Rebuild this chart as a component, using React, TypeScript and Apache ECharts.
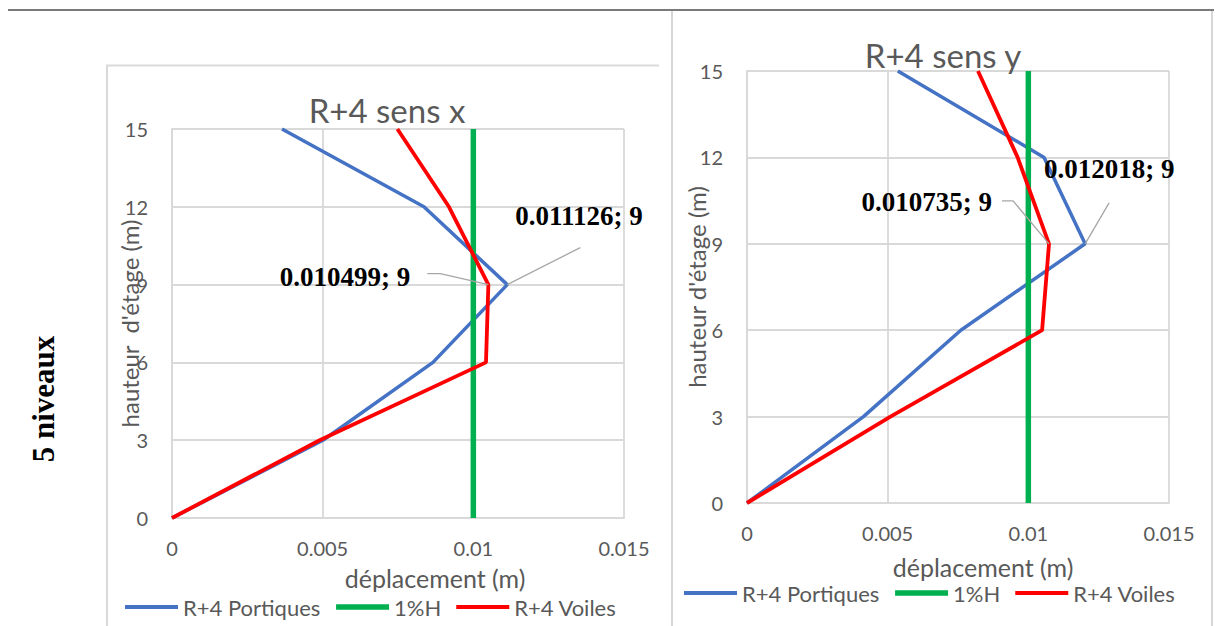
import React, { useEffect, useRef } from "react";
import * as echarts from "echarts";

// Storey heights (m) shared by every profile
const heights = [0, 3, 6, 9, 12, 15];

// Storey displacements (m), direction x
const portiquesX = [0, 0.00501, 0.00866, 0.011126, 0.00836, 0.00365];
const voilesX = [0, 0.0049, 0.01042, 0.010499, 0.00919, 0.00748];

// Storey displacements (m), direction y
const portiquesY = [0, 0.00414, 0.0076, 0.012018, 0.01056, 0.00536];
const voilesY = [0, 0.0051, 0.01049, 0.010735, 0.00962, 0.00821];

// Admissible drift limit (1 % of storey height)
const limit1pct = [0.01, 0.01, 0.01, 0.01, 0.01, 0.01];

const seriesNames = ["R+4 Portiques", "1%H", "R+4 Voiles"];
const chartTitles = ["R+4 sens x", "R+4 sens y"];
const xTicks = { min: 0, max: 0.015, interval: 0.005 };
const yTicks = { min: 0, max: 15, interval: 3 };
const rowLabel = "5 niveaux";

// Index of the storey whose value is written next to the curve
const labelledStorey = 3;

const SANS = "Lato, 'Open Sans', sans-serif";
const SERIF = "'Liberation Serif', 'DejaVu Serif', serif";
const GREY_TEXT = "#595959";
const GRID_GREY = "#d9d9d9";
const BLUE = "#4472c4";
const GREEN = "#00b050";
const RED = "#ff0000";
const LEADER_GREY = "#a6a6a6";

// Callout placement relative to its anchor point (px):
// label anchor offset, alignment, and the bends of the leader line.
type Callout = {
  dx: number;
  dy: number;
  align: "left" | "right";
  bends: number[][];
};
const callouts: Record<string, Callout> = {
  "0-0": { dx: 8, dy: -69, align: "left", bends: [[73, -37]] },
  "0-2": { dx: -78, dy: -8, align: "right", bends: [[-61, -11], [-48, -11]] },
  "1-0": { dx: -41, dy: -75, align: "left", bends: [[24, -41]] },
  "1-2": { dx: -57, dy: -42, align: "right", bends: [[-47, -43], [-36, -43]] },
};

function pairs(xs: number[]) {
  return xs.map((x, i) => [x, heights[i]]);
}

function withCallout(xs: number[]) {
  return pairs(xs).map((p, i) =>
    i === labelledStorey
      ? { value: p, symbol: "circle", symbolSize: 2, label: { show: true } }
      : p
  );
}

function calloutLayout(chartIdx: number, curveIdx: number) {
  const cfg = callouts[`${chartIdx}-${curveIdx}`];
  return (params: any) => {
    if (params.dataIndex !== labelledStorey) return {};
    const r = params.rect;
    const px = r.x + r.width / 2;
    const py = r.y + r.height / 2;
    return {
      x: px + cfg.dx,
      y: py + cfg.dy,
      align: cfg.align,
      verticalAlign: "middle",
    };
  };
}

const calloutLabel = {
  show: false,
  fontFamily: SERIF,
  fontWeight: "bold" as const,
  fontSize: 27,
  color: "#000",
  formatter: (p: any) => `${p.value[0]}; ${p.value[1]}`,
};

function curveSeries(chartIdx: number, portiques: number[], voiles: number[]) {
  const common = {
    type: "line" as const,
    xAxisIndex: chartIdx,
    yAxisIndex: chartIdx,
    symbol: "none",
    silent: true,
  };
  return [
    {
      ...common,
      name: seriesNames[0],
      data: withCallout(portiques),
      lineStyle: { color: BLUE, width: 3.5 },
      itemStyle: { color: BLUE },
      label: calloutLabel,
      labelLayout: calloutLayout(chartIdx, 0),
    },
    {
      ...common,
      name: seriesNames[1],
      data: pairs(limit1pct),
      lineStyle: { color: GREEN, width: 5.5 },
      itemStyle: { color: GREEN },
    },
    {
      ...common,
      name: seriesNames[2],
      data: withCallout(voiles),
      lineStyle: { color: RED, width: 3.8 },
      itemStyle: { color: RED },
      label: calloutLabel,
      labelLayout: calloutLayout(chartIdx, 2),
    },
  ];
}

function xAxis(gridIndex: number, nameGap: number, shift: number) {
  return {
    gridIndex,
    type: "value" as const,
    ...xTicks,
    name: "déplacement (m)",
    nameLocation: "middle" as const,
    nameGap,
    nameMoveOverlap: false,
    nameTextStyle: {
      fontFamily: SANS,
      fontSize: 25,
      color: GREY_TEXT,
      padding: [0, 0, 0, shift],
    },
    axisLine: { show: true, lineStyle: { color: GRID_GREY, width: 1.8 } },
    axisTick: { show: false },
    axisLabel: { fontFamily: SANS, fontSize: 20, color: GREY_TEXT, margin: 20 },
    splitLine: { show: true, lineStyle: { color: GRID_GREY, width: 1.8 } },
  };
}

function yAxis(gridIndex: number, name: string, nameGap: number) {
  return {
    gridIndex,
    type: "value" as const,
    ...yTicks,
    name,
    nameLocation: "middle" as const,
    nameRotate: 90,
    nameGap,
    nameMoveOverlap: false,
    nameTextStyle: { fontFamily: SANS, fontSize: 24, color: GREY_TEXT },
    axisLine: { show: true, lineStyle: { color: GRID_GREY, width: 1.8 } },
    axisTick: { show: false },
    axisLabel: { fontFamily: SANS, fontSize: 20, color: GREY_TEXT, margin: 24 },
    splitLine: { show: true, lineStyle: { color: GRID_GREY, width: 1.8 } },
  };
}

const legendWidths = [4, 5.5, 4];

function legend(left: number, top: number) {
  return {
    left,
    top,
    padding: 0,
    data: seriesNames.map((name, i) => ({
      name,
      lineStyle: { width: legendWidths[i] },
    })),
    itemWidth: 53,
    itemHeight: 26,
    itemGap: 13,
    selectedMode: false,
    itemStyle: { opacity: 0 },
    textStyle: { fontFamily: SANS, fontSize: 22, color: GREY_TEXT },
  };
}

function title(text: string, left: number, top: number) {
  return {
    text,
    left,
    top,
    padding: 0,
    textAlign: "center" as const,
    textStyle: {
      fontFamily: SANS,
      fontSize: 33,
      fontWeight: "normal" as const,
      color: GREY_TEXT,
    },
  };
}

export default function App() {
  const ref = useRef<HTMLDivElement>(null);

  useEffect(() => {
    if (!ref.current) return;
    const chart = echarts.init(ref.current, null, { renderer: "svg" });

    const frame = [
      // table rule along the top
      {
        type: "line",
        shape: { x1: 8, y1: 10, x2: 1214, y2: 10 },
        style: { stroke: "#7a7a7a", lineWidth: 2 },
      },
      // table cell separators
      {
        type: "line",
        shape: { x1: 672, y1: 11, x2: 672, y2: 626 },
        style: { stroke: "#d6d6d6", lineWidth: 2 },
      },
      {
        type: "line",
        shape: { x1: 1212, y1: 11, x2: 1212, y2: 626 },
        style: { stroke: "#d6d6d6", lineWidth: 2 },
      },
      // frame of the first chart area
      {
        type: "polyline",
        shape: { points: [[107, 626], [107, 65.5], [659, 65.5]] },
        style: { stroke: "#d9d9d9", lineWidth: 2, fill: "none" },
      },
      {
        type: "text",
        x: 43,
        y: 399,
        rotation: Math.PI / 2,
        style: {
          text: rowLabel,
          fontFamily: SERIF,
          fontWeight: "bold",
          fontSize: 31,
          fill: "#000",
          align: "center",
          verticalAlign: "middle",
        },
      },
    ];

    chart.setOption({
      animation: false,
      backgroundColor: "#ffffff",
      title: [title(chartTitles[0], 387, 93), title(chartTitles[1], 943, 38)],
      legend: [legend(123, 596), legend(682, 582)],
      grid: [
        { left: 172, top: 129, width: 452, height: 389 },
        { left: 747, top: 71, width: 422, height: 432 },
      ],
      xAxis: [xAxis(0, 47, 74), xAxis(1, 51, 50)],
      yAxis: [
        yAxis(0, "hauteur  d'étage (m)", 31),
        yAxis(1, "hauteur d'étage (m)", 39),
      ],
      series: [
        ...curveSeries(0, portiquesX, voilesX),
        ...curveSeries(1, portiquesY, voilesY),
      ],
      graphic: frame,
    });

    // Leader lines from each callout to its data point
    const anchored: [number, number, number[]][] = [
      [0, 0, portiquesX],
      [0, 2, voilesX],
      [1, 0, portiquesY],
      [1, 2, voilesY],
    ];
    const leaders = anchored.map(([chartIdx, curveIdx, xs]) => {
      const [px, py] = chart.convertToPixel({ gridIndex: chartIdx }, [
        xs[labelledStorey],
        heights[labelledStorey],
      ]) as number[];
      const cfg = callouts[`${chartIdx}-${curveIdx}`];
      const pts = cfg.bends.map(([bx, by]) => [px + bx, py + by]);
      pts.push([px, py]);
      return {
        type: "polyline",
        silent: true,
        z: 10,
        shape: { points: pts },
        style: { stroke: LEADER_GREY, lineWidth: 1.3, fill: "none" },
      };
    });
    chart.setOption({ graphic: [...frame, ...leaders] });

    return () => chart.dispose();
  }, []);

  return (
    <div
      ref={ref}
      style={{ position: "fixed", left: 0, top: 0, width: 1215, height: 626 }}
    />
  );
}
